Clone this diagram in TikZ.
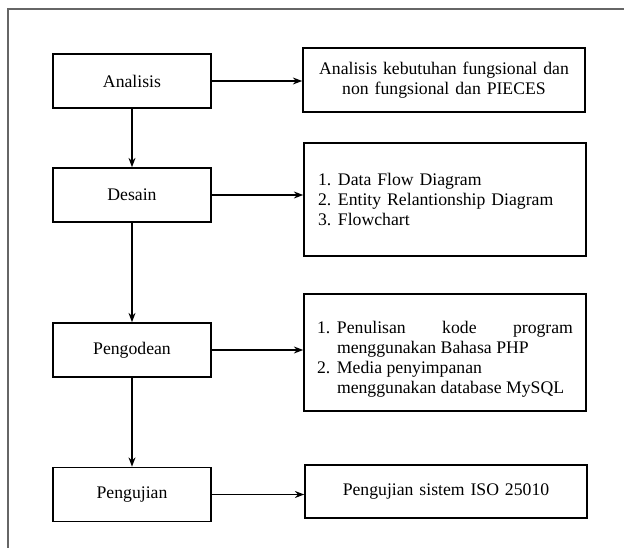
\documentclass[tikz,border=0pt]{standalone}
\usepackage{fontspec}
\setmainfont{Liberation Serif}
\usetikzlibrary{arrows.meta, calc}

\begin{document}
\begin{tikzpicture}[x=1pt, y=-1pt, >=Stealth, font=\fontsize{17.7}{20}\selectfont,
    stage/.style={draw, line width=1.6pt, minimum width=158pt, minimum height=54pt, inner sep=0pt},
    detail/.style={draw, line width=1.6pt, text width=254pt, inner xsep=14pt, inner ysep=0pt},
    flow/.style={->, line width=1.4pt}]
  \useasboundingbox (0,0) rectangle (624,548);
  % outer frame
  \draw[black!60, line width=1.2pt] (8,548) -- (8,9) -- (624,9);

  % stages
  \node[stage] (ana) at (132,81)    {Analisis};
  \node[stage] (des) at (132,195)   {Desain};
  \node[stage] (kod) at (132,350)   {Pengodean};
  \node[stage] (uji) at (132,494.5) {Pengujian};

  % what each stage gives
  \node[detail, minimum height=64pt, align=center] (anaout) at (444,80)
    {Analisis kebutuhan fungsional dan\\ non fungsional dan PIECES};
  \node[detail, minimum height=113pt, align=left] (desout) at (445,199.5)
    {\makebox[20pt][l]{1.}Data Flow Diagram\\
     \makebox[20pt][l]{2.}Entity Relantionship Diagram\\
     \makebox[20pt][l]{3.}Flowchart};
  \node[detail, minimum height=117pt] (kodout) at (445,352.5) {};
  \node[text width=256pt, inner sep=0pt, align=justify] (kodtext) at ([yshift=-7pt]kodout.center)
    {\hangindent=20pt\hangafter=1\makebox[20pt][l]{1.}Penulisan kode program\linebreak menggunakan Bahasa PHP\par
     \hangindent=20pt\hangafter=1\makebox[20pt][l]{2.}Media penyimpanan\newline menggunakan database MySQL\par};
  \node[detail, minimum height=53pt, align=center] (ujiout) at (446,491.5)
    {Pengujian sistem ISO 25010};

  \draw[flow] (ana) -- (des);
  \draw[flow] (des) -- (kod);
  \draw[flow] (kod) -- (uji);
  \draw[flow] (ana.east) -- (ana.east -| anaout.west);
  \draw[flow] (des.east) -- (des.east -| desout.west);
  \draw[flow] (kod.east) -- (kod.east -| kodout.west);
  \draw[flow] (uji.east) -- (uji.east -| ujiout.west);
\end{tikzpicture}
\end{document}
